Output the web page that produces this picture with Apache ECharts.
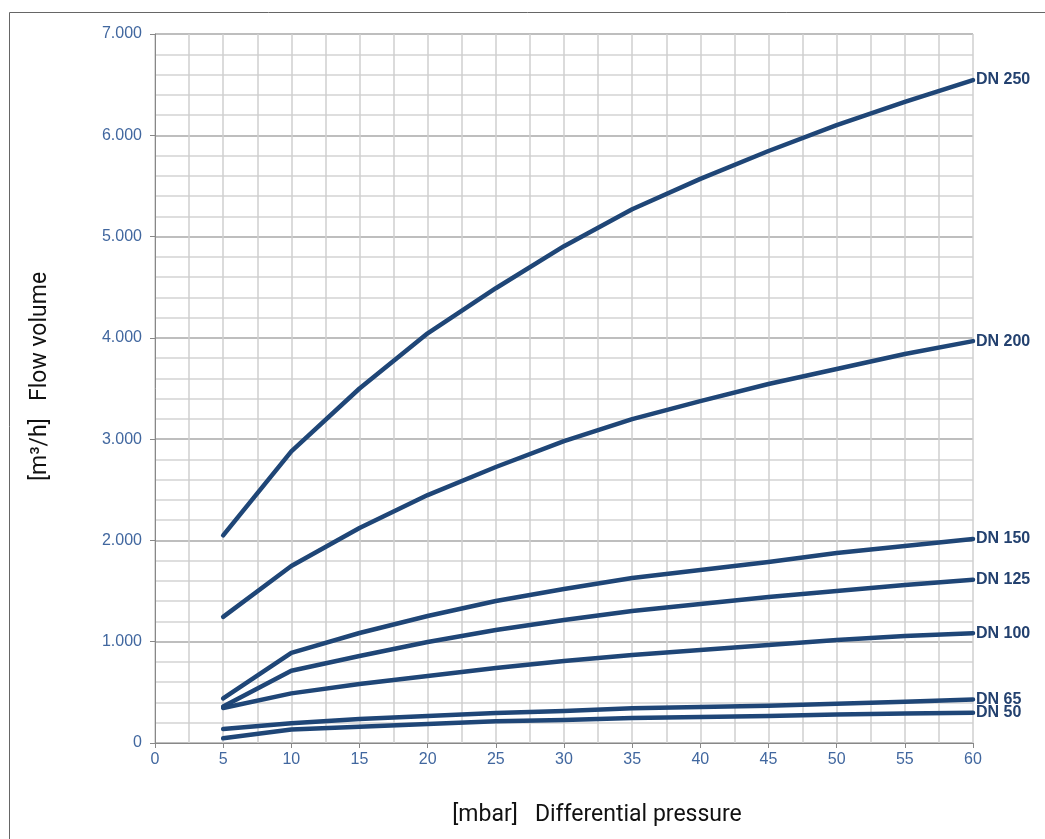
<!DOCTYPE html>
<html><head><meta charset="utf-8">
<script src="https://cdn.jsdelivr.net/npm/echarts@6/dist/echarts.min.js"></script>
<style>html,body{margin:0;padding:0;background:#fff}#c{width:1045px;height:839px}</style>
</head><body><div id="c"></div>
<script>
const pressures = [5,10,15,20,25,30,35,40,45,50,55,60];
const seriesNames = ['DN 250','DN 200','DN 150','DN 125','DN 100','DN 65','DN 50'];
const dn250 = [2050,2880,3500,4045,4490,4905,5270,5570,5845,6100,6330,6545];
const dn200 = [1245,1747,2122,2448,2725,2980,3198,3376,3544,3692,3840,3968];
const dn150 = [440,890,1086,1254,1402,1520,1629,1708,1787,1876,1945,2014];
const dn125 = [360,714,859,997,1115,1214,1303,1372,1441,1500,1560,1612];
const dn100 = [345,490,582,661,740,809,869,918,967,1017,1056,1084];
const dn65 = [138,195,237,267,296,316,342,356,368,388,408,430];
const dn50 = [46,133,160,188,215,228,246,256,266,282,292,298];
const seriesData = [dn250,dn200,dn150,dn125,dn100,dn65,dn50];

const lineColor = '#1f4677';
const chart = echarts.init(document.getElementById('c'));
chart.setOption({
  animation:false,
  graphic:[{type:'rect',shape:{x:9.5,y:12.5,width:1100,height:900},style:{fill:'none',stroke:'#666',lineWidth:1}}],
  grid:{left:155,right:72,top:34,bottom:96},
  xAxis:{type:'value',min:0,max:60,interval:5,
    name:'[mbar]   Differential pressure',nameLocation:'middle',nameGap:61,
    nameTextStyle:{fontFamily:'Roboto',fontSize:23,color:'#111',padding:[0,0,0,66]},
    axisLine:{show:true,lineStyle:{color:'#888',width:1}},
    axisTick:{show:true,length:5,lineStyle:{color:'#888'}},
    axisLabel:{fontFamily:'Liberation Sans',fontSize:16,color:'#41679f',margin:9},
    splitLine:{show:true,lineStyle:{color:'#cfcfcf',width:1.5}},
    minorTick:{show:false,splitNumber:2},
    minorSplitLine:{show:true,lineStyle:{color:'#cfcfcf',width:1.5}}
  },
  yAxis:{type:'value',min:0,max:7000,interval:1000,
    name:'[m³/h]   Flow volume',nameLocation:'middle',nameGap:103,
    nameTextStyle:{fontFamily:'Roboto',fontSize:23,color:'#111',padding:[0,0,0,24]},
    axisLine:{show:true,lineStyle:{color:'#888',width:1}},
    axisTick:{show:true,length:5,lineStyle:{color:'#888'}},
    axisLabel:{fontFamily:'Liberation Sans',fontSize:16,color:'#41679f',margin:13,
      formatter:v=>v===0?'0':(Math.floor(v/1000)+'.'+String(v%1000).padStart(3,'0'))},
    splitLine:{show:true,lineStyle:{color:'#a8a8a8',width:1.5}},
    minorTick:{show:false,splitNumber:5},
    minorSplitLine:{show:true,lineStyle:{color:'#d3d3d3',width:1.5}}
  },
  series: seriesNames.map((n,i)=>({
    name:n,type:'line',data:pressures.map((p,j)=>[p,seriesData[i][j]]),
    showSymbol:false,symbol:'none',
    lineStyle:{color:lineColor,width:4.5,cap:'round',join:'round'},
    endLabel:{show:true,formatter:'{a}',fontFamily:'Liberation Sans',fontWeight:'bold',fontSize:16,color:'#23416f',distance:3},
    labelLayout:{hideOverlap:false}
  }))
});
</script></body></html>
